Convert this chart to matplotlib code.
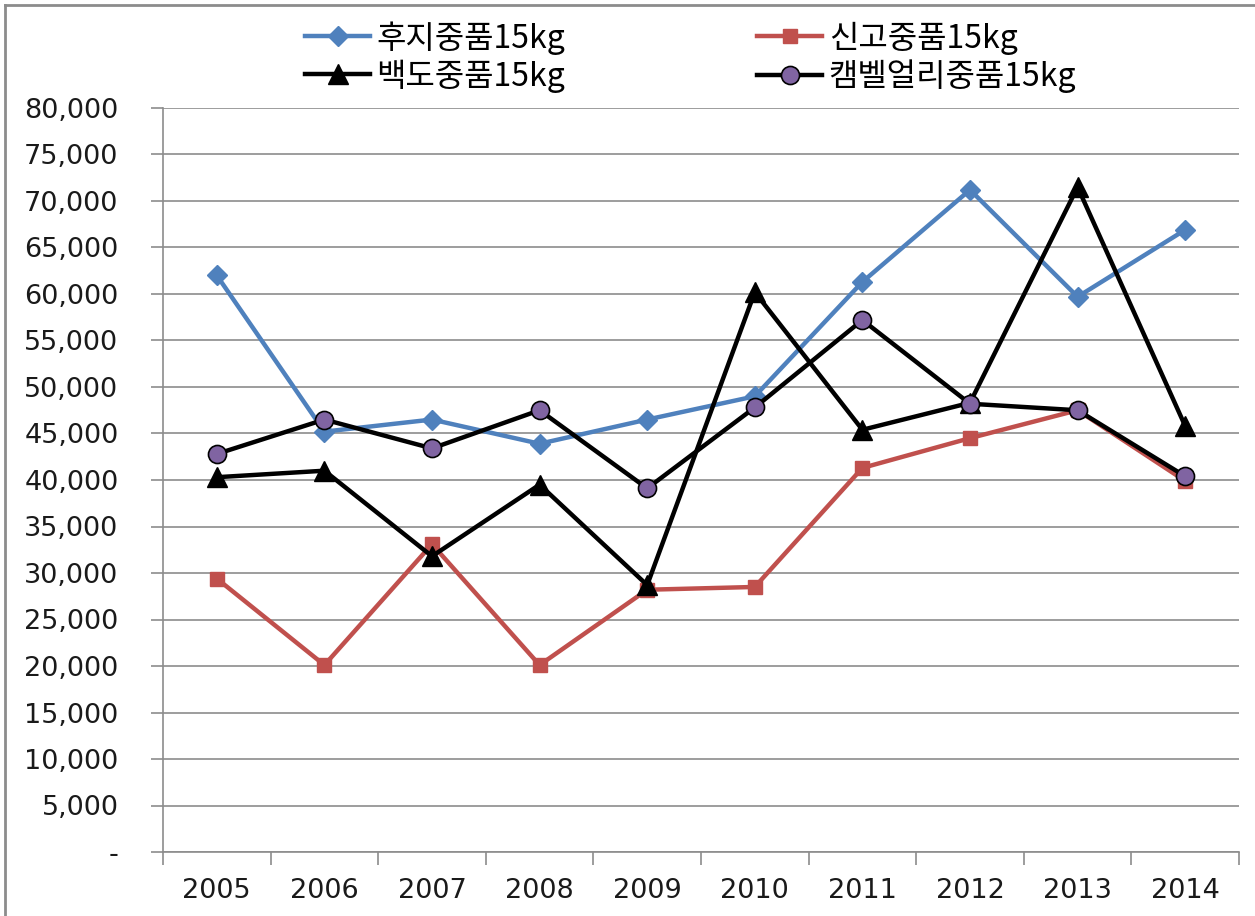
import numpy as np
import matplotlib
matplotlib.use("Agg")
import matplotlib.pyplot as plt
from matplotlib.lines import Line2D
from matplotlib.ticker import FuncFormatter, MultipleLocator

years = ['2005', '2006', '2007', '2008', '2009', '2010', '2011', '2012', '2013', '2014']

fuji = [62000, 45200, 46500, 43900, 46500, 49000, 61300, 71200, 59700, 66900]
singo = [29400, 20100, 33100, 20100, 28200, 28500, 41300, 44500, 47500, 39900]
baekdo = [40300, 41000, 31800, 39500, 28700, 60200, 45400, 48300, 71500, 45800]
campbell = [42800, 46500, 43400, 47500, 39100, 47800, 57200, 48200, 47500, 40400]

plt.rcParams['font.family'] = ['DejaVu Sans', 'Noto Sans CJK KR']

fig = plt.figure(figsize=(12.55, 9.16), dpi=100)
ax = fig.add_axes([163 / 1255, 1 - 852 / 916, (1239 - 163) / 1255, (852 - 108) / 916])

x = np.arange(len(years))
lw = 3.2

ax.plot(x, fuji, color='#4F81BD', lw=lw, marker='D', ms=10,
        mfc='#4F81BD', mec='#4F81BD', label='후지중품15kg', zorder=3)
ax.plot(x, singo, color='#C0504D', lw=lw, marker='s', ms=10,
        mfc='#C0504D', mec='#C0504D', label='신고중품15kg', zorder=3)
ax.plot(x, baekdo, color='black', lw=lw, marker='^', ms=15,
        mfc='black', mec='black', label='백도중품15kg', zorder=4)
ax.plot(x, campbell, color='black', lw=lw, marker='o', ms=13,
        mfc='#8064A2', mec='black', mew=1.2, label='캠벨얼리중품15kg', zorder=5)

ax.set_xlim(-0.5, len(years) - 0.5)
ax.set_ylim(0, 80000)

# y axis: gridlines every 5,000, zero shown as a dash
ax.yaxis.set_major_locator(MultipleLocator(5000))
ax.yaxis.set_major_formatter(FuncFormatter(lambda v, p: '-' if v == 0 else f'{int(v):,}'))
ax.grid(axis='y', color='#8c8c8c', lw=1.2)
ax.set_axisbelow(True)
ax.tick_params(axis='y', direction='out', length=9, width=1.2, color='#8c8c8c',
               pad=23, labelsize=19.5, labelcolor='#1a1a1a')

# x axis: labels centred on categories, tick marks between them
ax.set_xticks(x)
ax.set_xticklabels(years)
ax.set_xticks(np.arange(-0.5, len(years)), minor=True)
ax.tick_params(axis='x', which='major', length=0, pad=19, labelsize=19.5, labelcolor='#1a1a1a')
ax.tick_params(axis='x', which='minor', direction='out', length=9, width=1.2, color='#8c8c8c')

for side in ['top', 'right']:
    ax.spines[side].set_visible(False)
for side in ['left', 'bottom']:
    ax.spines[side].set_color('#8c8c8c')
    ax.spines[side].set_linewidth(1.2)

handles, labels = ax.get_legend_handles_labels()
order = [0, 2, 1, 3]
leg = fig.legend([handles[i] for i in order], [labels[i] for i in order],
                 ncol=2, loc='upper left', bbox_to_anchor=(305 / 1255, 1 - 21 / 916),
                 borderaxespad=0, borderpad=0, frameon=False,
                 handlelength=2.04, handletextpad=0.2, columnspacing=6.0, labelspacing=0.145,
                 prop={'family': ['Noto Sans CJK KR'], 'size': 23})

# outer chart frame
fig.add_artist(Line2D([5 / 1255, 5 / 1255], [0, 1 - 5 / 916], color='#8c8c8c', lw=2))
fig.add_artist(Line2D([5 / 1255, 1], [1 - 5 / 916, 1 - 5 / 916], color='#8c8c8c', lw=2))

fig.savefig('out.png', dpi=100)
